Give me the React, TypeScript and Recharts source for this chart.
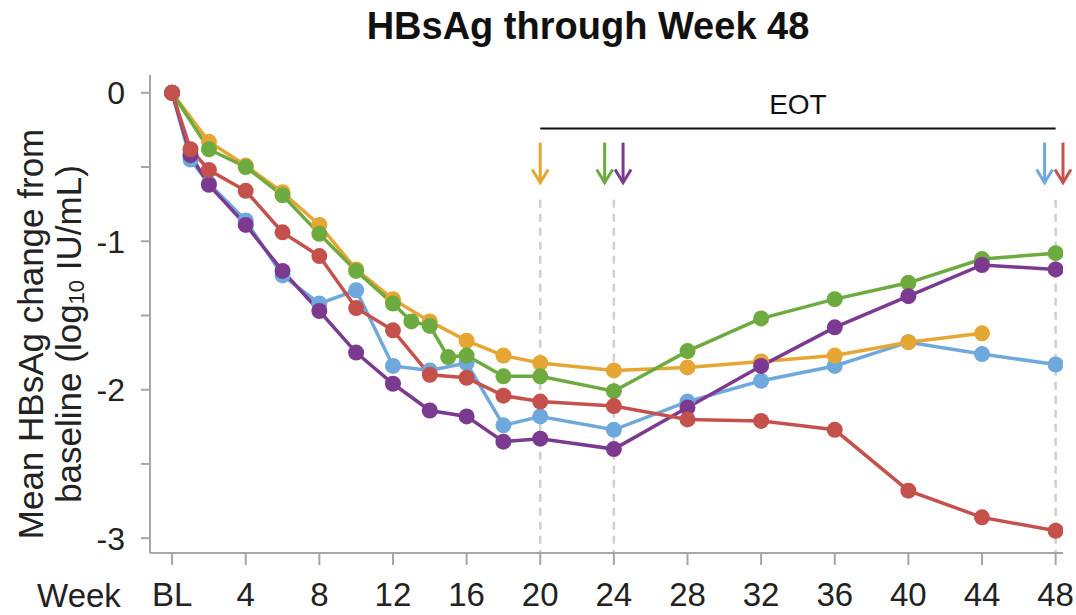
import React from "react";
import {
  LineChart,
  Line,
  XAxis,
  YAxis,
  ReferenceLine,
  ReferenceDot,
} from "recharts";

// ---- data ----
const weeks = [0, 1, 2, 4, 6, 8, 10, 12, 13, 14, 15, 16, 18, 20, 24, 28, 32, 36, 40, 44, 48];

const blueSeries = [0, -0.45, -0.61, -0.86, -1.23, -1.42, -1.33, -1.84, null, -1.87, null, -1.82, -2.24, -2.18, -2.27, -2.08, -1.94, -1.84, -1.68, -1.76, -1.83];
const orangeSeries = [0, null, -0.33, -0.49, -0.67, -0.89, -1.19, -1.39, null, -1.54, null, -1.67, -1.77, -1.82, -1.87, -1.85, -1.81, -1.77, -1.68, -1.62, null];
const greenSeries = [0, null, -0.38, -0.5, -0.69, -0.95, -1.2, -1.42, -1.54, -1.57, -1.78, -1.77, -1.91, -1.91, -2.01, -1.74, -1.52, -1.39, -1.28, -1.12, -1.08];
const purpleSeries = [0, -0.42, -0.62, -0.89, -1.2, -1.47, -1.75, -1.96, null, -2.14, null, -2.18, -2.35, -2.33, -2.4, -2.12, -1.84, -1.58, -1.37, -1.16, -1.19];
const redSeries = [0, -0.38, -0.52, -0.66, -0.94, -1.1, -1.45, -1.6, null, -1.9, null, -1.92, -2.04, -2.08, -2.11, -2.2, -2.21, -2.27, -2.68, -2.86, -2.95];

const xTicks = [0, 4, 8, 12, 16, 20, 24, 28, 32, 36, 40, 44, 48];
const yTicks = [0, -0.5, -1, -1.5, -2, -2.5, -3];

// end-of-treatment arrows (week position of each arm's arrow)
const eotArrowWeeks = { orange: 20, green: 23.5, purple: 24.5, blue: 47.4, red: 48.4 };
const eotDashedWeeks = [20, 24, 48];
const eotSpan = [20, 48];

const titleText = "HBsAg through Week 48";
const eotText = "EOT";

// ---- styles ----
const COLORS = {
  blue: "#6FA8DC",
  orange: "#E5A633",
  green: "#6DAA3F",
  purple: "#7B3A8F",
  red: "#C4514C",
};
const FONT = "'Liberation Sans', Arial, sans-serif";

const data = weeks.map((w, i) => ({
  week: w,
  blue: blueSeries[i],
  orange: orangeSeries[i],
  green: greenSeries[i],
  purple: purpleSeries[i],
  red: redSeries[i],
}));

const seriesOrder: Array<keyof typeof COLORS> = ["blue", "orange", "green", "purple", "red"];

const Arrow = (color: string) => (props: any) => {
  const { cx, cy } = props;
  if (cx == null || cy == null) return null;
  return (
    <g stroke={color} strokeWidth={3} fill="none" strokeLinecap="butt">
      <line x1={cx} y1={cy - 20} x2={cx} y2={cy + 19} />
      <polyline points={`${cx - 8},${cy + 7} ${cx},${cy + 20} ${cx + 8},${cy + 7}`} strokeLinejoin="miter" />
    </g>
  );
};

const EotLabel = (props: any) => {
  const { cx, cy } = props;
  return (
    <text x={cx} y={cy} textAnchor="middle" dominantBaseline="central" fontFamily={FONT} fontSize={28} fill="#111">
      {eotText}
    </text>
  );
};

const YLabel = (props: any) => {
  const vb = props.viewBox || {};
  const cy = (vb.y ?? 75) + (vb.height ?? 478) / 2 + 20;
  return (
    <g fontFamily={FONT} fontSize={35} fill="#222">
      <text x={30} y={cy} textAnchor="middle" dominantBaseline="central" transform={`rotate(-90, 30, ${cy})`}>
        Mean HBsAg change from
      </text>
      <text x={68} y={cy} textAnchor="middle" dominantBaseline="central" transform={`rotate(-90, 68, ${cy})`}>
        baseline (log
        <tspan fontSize={22} dy={8}>10</tspan>
        <tspan dy={-8}> IU/mL)</tspan>
      </text>
    </g>
  );
};

const XLabel = (props: any) => {
  const vb = props.viewBox || {};
  const y = (vb.y ?? 553) + 54;
  return (
    <text x={79} y={y} textAnchor="middle" fontFamily={FONT} fontSize={33} fill="#222">
      Week
    </text>
  );
};

export default function App() {
  return (
    <div style={{ position: "absolute", left: 0, top: 0, width: 1076, height: 615, background: "#fff" }}>
      <div
        style={{
          position: "absolute",
          left: 0,
          top: 5,
          width: 1176,
          textAlign: "center",
          fontFamily: FONT,
          fontWeight: "bold",
          fontSize: 38,
          color: "#111",
          lineHeight: "42px",
        }}
      >
        {titleText}
      </div>
      <LineChart
        width={1076}
        height={615}
        data={data}
        margin={{ top: 75, right: 13, left: 0, bottom: 0 }}
        style={{ fontFamily: FONT }}
      >
        <XAxis
          dataKey="week"
          type="number"
          domain={[-1.2, 48.4]}
          ticks={xTicks}
          allowDataOverflow
          tickFormatter={(v: number) => (v === 0 ? "BL" : String(v))}
          height={62}
          tickSize={12}
          tickMargin={18}
          axisLine={{ stroke: "#a6a6a6", strokeWidth: 2 }}
          tickLine={{ stroke: "#a6a6a6", strokeWidth: 2 }}
          tick={{ fontSize: 33, fill: "#222", fontFamily: FONT }}
          interval={0}
          label={{ content: XLabel }}
        />
        <YAxis
          type="number"
          domain={[-3.1, 0.12]}
          ticks={yTicks}
          allowDataOverflow
          width={150}
          tickSize={9}
          tickMargin={16}
          tickFormatter={(v: number) => (Number.isInteger(v) ? String(v) : "")}
          axisLine={{ stroke: "#a6a6a6", strokeWidth: 2 }}
          tickLine={{ stroke: "#a6a6a6", strokeWidth: 2 }}
          tick={{ fontSize: 32, fill: "#222", fontFamily: FONT }}
          interval={0}
          label={{ content: YLabel }}
        />
        {eotDashedWeeks.map((w) => (
          <ReferenceLine
            key={`d${w}`}
            segment={[
              { x: w, y: -0.72 },
              { x: w, y: -3.1 },
            ]}
            stroke="#cfcfcf"
            strokeWidth={2.5}
            strokeDasharray="8 6"
            ifOverflow="visible"
          />
        ))}
        <ReferenceLine
          segment={[
            { x: eotSpan[0], y: -0.24 },
            { x: eotSpan[1], y: -0.24 },
          ]}
          stroke="#111"
          strokeWidth={2}
          ifOverflow="visible"
        />
        <ReferenceDot x={(eotSpan[0] + eotSpan[1]) / 2} y={-0.08} r={1} shape={EotLabel} ifOverflow="visible" />
        {seriesOrder.map((k) => (
          <ReferenceDot
            key={`a${k}`}
            x={eotArrowWeeks[k]}
            y={-0.47}
            r={1}
            shape={Arrow(COLORS[k])}
            ifOverflow="visible"
          />
        ))}
        {seriesOrder.map((k) => (
          <Line
            key={k}
            type="linear"
            dataKey={k}
            stroke={COLORS[k]}
            strokeWidth={3.5}
            dot={{ r: 8, fill: COLORS[k], stroke: COLORS[k], strokeWidth: 0 }}
            activeDot={false}
            connectNulls
            isAnimationActive={false}
          />
        ))}
      </LineChart>
    </div>
  );
}
